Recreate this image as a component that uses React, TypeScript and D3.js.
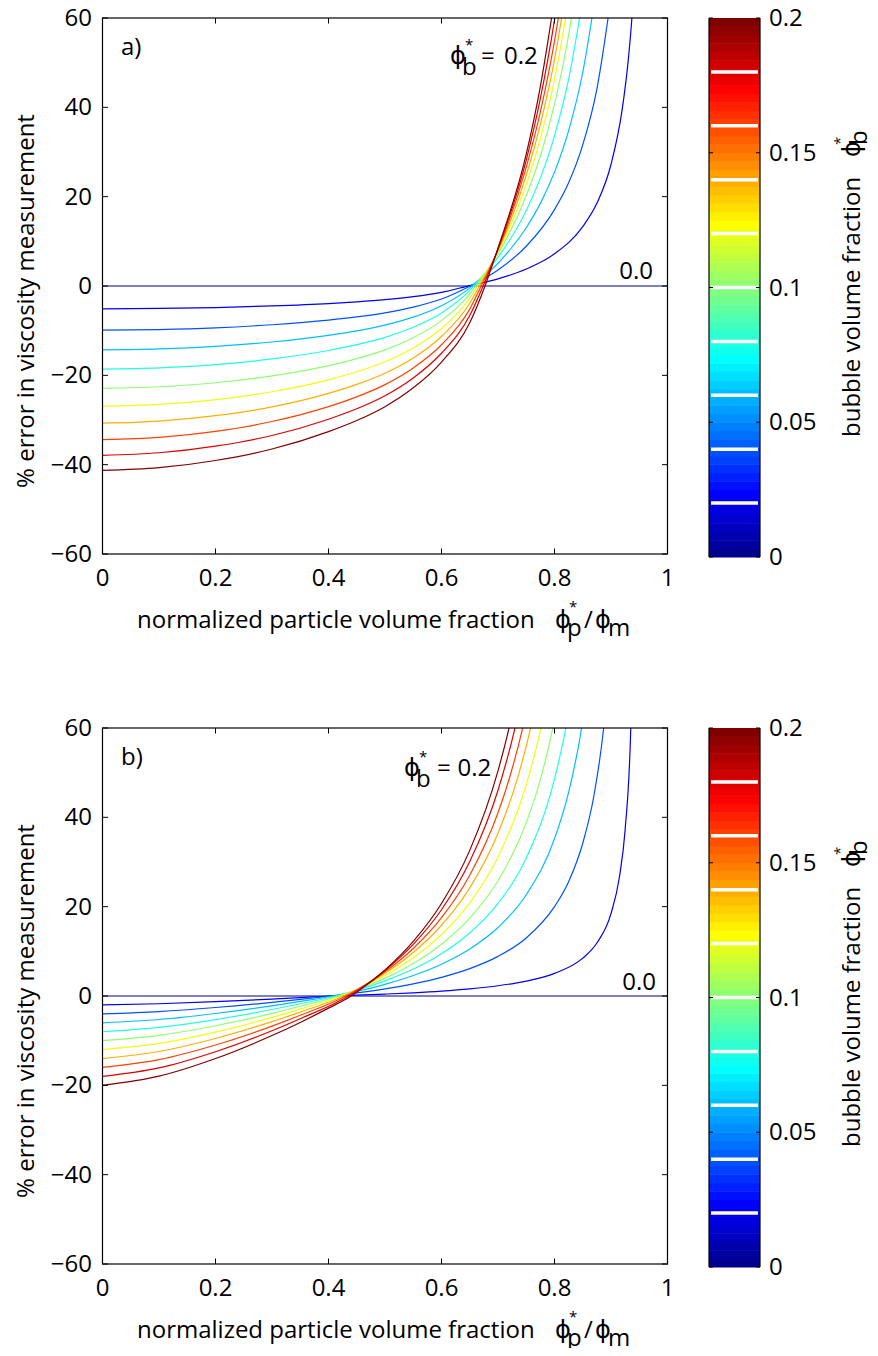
import React from "react";
import * as d3 from "d3";

const W = 878;
const H = 1356;

// ---------- data ----------
const PHI_B = [0.02, 0.04, 0.06, 0.08, 0.1, 0.12, 0.14, 0.16, 0.18, 0.2];
const X_TICKS = [0, 0.2, 0.4, 0.6, 0.8, 1];
const X_TICK_LABELS = ["0", "0.2", "0.4", "0.6", "0.8", "1"];
const Y_TICKS = [-60, -40, -20, 0, 20, 40, 60];
const CB_TICKS = [0, 0.05, 0.1, 0.15, 0.2];
const CB_TICK_LABELS = ["0", "0.05", "0.1", "0.15", "0.2"];
const CB_MARKS = [0.02, 0.04, 0.06, 0.08, 0.1, 0.12, 0.14, 0.16, 0.18];

// panel a: [normalized particle fraction, % error] read for each phi_b (rows follow PHI_B)
const CURVES_A: number[][][] = [
  [[0, -5.1], [0.1, -5.02], [0.2, -4.82], [0.3, -4.46], [0.4, -3.93], [0.45, -3.54], [0.5, -3.06], [0.55, -2.4], [0.6, -1.43], [0.65, 0.1], [0.7, 1.6], [0.75, 3.8], [0.8, 7.2], [0.85, 13.3], [0.875, 18.5], [0.9, 27.2], [0.92, 39.7], [0.93, 49.9], [0.937, 60], [0.945, 77]],
  [[0, -9.9], [0.1, -9.75], [0.2, -9.37], [0.3, -8.67], [0.4, -7.64], [0.45, -6.92], [0.5, -6.0], [0.55, -4.74], [0.6, -2.92], [0.65, -0.04], [0.7, 3.6], [0.75, 8.9], [0.8, 17.1], [0.825, 23.1], [0.85, 31.6], [0.875, 44.1], [0.9, 64.6]],
  [[0, -14.3], [0.1, -14.09], [0.2, -13.53], [0.3, -12.54], [0.4, -11.07], [0.45, -10.05], [0.5, -8.75], [0.55, -6.98], [0.6, -4.42], [0.65, -0.41], [0.6537, 0], [0.7, 5.1], [0.75, 13.05], [0.775, 18.5], [0.8, 25.5], [0.825, 34.8], [0.85, 47.8], [0.875, 67.2]],
  [[0, -18.6], [0.1, -18.32], [0.2, -17.6], [0.3, -16.33], [0.4, -14.44], [0.45, -13.14], [0.5, -11.49], [0.55, -9.25], [0.6, -6.03], [0.65, -0.99], [0.657, 0], [0.7, 6.4], [0.75, 16.9], [0.775, 24.2], [0.8, 33.6], [0.825, 46.3], [0.85, 64.2]],
  [[0, -22.9], [0.1, -22.56], [0.2, -21.66], [0.3, -20.13], [0.4, -17.83], [0.45, -16.26], [0.5, -14.29], [0.55, -11.6], [0.6, -7.75], [0.65, -1.77], [0.6603, 0], [0.7, 7.2], [0.75, 20.2], [0.775, 29.1], [0.8, 40.7], [0.825, 56.2], [0.85, 78.2]],
  [[0, -26.9], [0.1, -26.5], [0.2, -25.45], [0.3, -23.67], [0.4, -21.0], [0.45, -19.2], [0.5, -16.95], [0.55, -13.87], [0.6, -9.51], [0.65, -2.74], [0.6637, 0], [0.7, 7.6], [0.75, 22.7], [0.775, 33.0], [0.8, 46.2], [0.825, 64.0]],
  [[0, -30.7], [0.1, -30.24], [0.2, -29.04], [0.3, -27.05], [0.4, -24.03], [0.45, -22.03], [0.5, -19.53], [0.55, -16.11], [0.6, -11.3], [0.65, -3.87], [0.667, 0], [0.7, 7.9], [0.75, 24.8], [0.775, 36.2], [0.8, 50.7], [0.825, 69.9]],
  [[0, -34.4], [0.1, -33.88], [0.2, -32.54], [0.3, -30.34], [0.4, -27.0], [0.45, -24.82], [0.5, -22.08], [0.55, -18.36], [0.6, -13.16], [0.65, -5.17], [0.6703, 0], [0.7, 8.1], [0.75, 26.6], [0.775, 39.0], [0.8, 54.8], [0.825, 75.4]],
  [[0, -37.9], [0.1, -37.33], [0.2, -35.85], [0.3, -33.47], [0.4, -29.82], [0.45, -27.49], [0.5, -24.56], [0.55, -20.58], [0.6, -15.06], [0.65, -6.62], [0.6737, 0], [0.7, 8.3], [0.75, 28.2], [0.775, 42.0], [0.8, 59.6], [0.825, 82.9]],
  [[0, -41.3], [0.1, -40.68], [0.2, -39.07], [0.3, -36.5], [0.4, -32.59], [0.45, -30.11], [0.5, -27.01], [0.55, -22.8], [0.6, -17.02], [0.65, -8.22], [0.677, 0], [0.7, 8.5], [0.75, 29.5], [0.775, 44.7], [0.8, 64.3]],
];

// panel b
const CURVES_B: number[][][] = [
  [[0, -2], [0.1, -1.74], [0.2, -1.28], [0.3, -0.69], [0.35, -0.36], [0.4, 0], [0.45, 0.19], [0.5, 0.43], [0.55, 0.72], [0.6, 1.09], [0.65, 1.59], [0.7, 2.29], [0.75, 3.34], [0.8, 5.06], [0.85, 8.48], [0.875, 11.86], [0.9, 18.46], [0.915, 26.7], [0.925, 37.2], [0.935, 59.9], [0.942, 102]],
  [[0, -4], [0.1, -3.49], [0.2, -2.58], [0.3, -1.42], [0.35, -0.76], [0.4044, 0], [0.45, 0.68], [0.5, 1.58], [0.55, 2.72], [0.6, 4.18], [0.65, 6.13], [0.7, 8.87], [0.75, 13.0], [0.8, 20.0], [0.825, 25.6], [0.85, 34.2], [0.87, 45.0], [0.887, 60.0], [0.9, 78.9]],
  [[0, -6], [0.1, -5.26], [0.2, -3.92], [0.3, -2.2], [0.35, -1.22], [0.4089, 0], [0.45, 1.06], [0.5, 2.62], [0.55, 4.58], [0.6, 7.11], [0.65, 10.52], [0.7, 15.33], [0.75, 22.67], [0.8, 35.2], [0.825, 45.6], [0.848, 60], [0.86, 70.8]],
  [[0, -8], [0.1, -7.03], [0.2, -5.27], [0.3, -3.02], [0.35, -1.74], [0.4133, 0], [0.45, 1.29], [0.5, 3.39], [0.55, 6.03], [0.6, 9.47], [0.65, 14.11], [0.7, 20.72], [0.75, 30.9], [0.8, 48.6], [0.82, 60], [0.84, 76.2]],
  [[0, -10], [0.1, -8.82], [0.2, -6.66], [0.3, -3.89], [0.35, -2.3], [0.4178, 0], [0.45, 1.41], [0.5, 4.01], [0.55, 7.3], [0.6, 11.6], [0.65, 17.42], [0.7, 25.79], [0.75, 38.8], [0.775, 48.5], [0.797, 60], [0.82, 77.0]],
  [[0, -12], [0.1, -10.62], [0.2, -8.08], [0.3, -4.79], [0.35, -2.93], [0.4222, 0], [0.45, 1.47], [0.5, 4.6], [0.55, 8.57], [0.6, 13.77], [0.65, 20.86], [0.7, 31.12], [0.75, 47.3], [0.776, 60], [0.8, 76.5]],
  [[0, -14], [0.1, -12.43], [0.2, -9.52], [0.3, -5.74], [0.35, -3.6], [0.4267, 0], [0.45, 1.45], [0.5, 5.1], [0.55, 9.74], [0.6, 15.84], [0.65, 24.22], [0.7, 36.44], [0.735, 48.95], [0.7577, 60], [0.78, 74.4]],
  [[0, -16], [0.1, -14.26], [0.2, -10.98], [0.3, -6.74], [0.35, -4.32], [0.4311, 0], [0.45, 1.33], [0.5, 5.42], [0.55, 10.64], [0.6, 17.53], [0.65, 27.04], [0.7, 41.04], [0.72, 48.7], [0.7436, 60], [0.765, 73.4]],
  [[0, -18], [0.1, -16.09], [0.2, -12.47], [0.3, -7.78], [0.35, -5.09], [0.4356, 0], [0.45, 1.14], [0.5, 5.71], [0.55, 11.56], [0.6, 19.31], [0.65, 30.09], [0.7, 46.07], [0.73, 60], [0.75, 72.2]],
  [[0, -20], [0.1, -17.94], [0.2, -14.0], [0.3, -8.86], [0.35, -5.92], [0.4, -2.72], [0.44, 0], [0.45, 0.86], [0.5, 5.83], [0.55, 12.22], [0.6, 20.72], [0.65, 32.6], [0.7, 50.4], [0.7195, 60], [0.74, 72.6]],
];

// ---------- helpers ----------
function jet64(i: number): string {
  const t = (i + 1) / 64;
  const c = (v: number) => Math.max(0, Math.min(1, v));
  const r = c(1.5 - Math.abs(4 * t - 3));
  const g = c(1.5 - Math.abs(4 * t - 2));
  const b = c(1.5 - Math.abs(4 * t - 1));
  return d3.rgb(r * 255, g * 255, b * 255).formatHex();
}
function colorFor(v: number): string {
  const idx = Math.min(63, Math.floor((v / 0.2) * 64 + 1e-9));
  return jet64(idx);
}

const FONT = "'Open Sans', 'DejaVu Sans', sans-serif";
const PHI = "\u03D5";
const FS = 24;
const FS_SUP = 15;

const PLOT_L = 102.5;
const PLOT_R = 667.5;
const CB_L = 709;
const CB_R = 760;

type PanelProps = {
  top: number;
  label: string;
  curves: number[][][];
  phiLabel: { x: number; y: number; eqX: number; numX: number };
  zeroLabel: { x: number; y: number };
  id: string;
};

function Panel({ top, label, curves, phiLabel, zeroLabel, id }: PanelProps) {
  const bottom = top + 536;
  const x = d3.scaleLinear().domain([0, 1]).range([PLOT_L, PLOT_R]);
  const y = d3.scaleLinear().domain([-60, 60]).range([bottom, top]);
  const cb = d3.scaleLinear().domain([0, 0.2]).range([top + 539, top]);
  const line = d3
    .line<number[]>()
    .x((d) => x(d[0]))
    .y((d) => y(d[1]))
    .curve(d3.curveMonotoneX);
  const tick = 5.5;
  const bands = d3.range(64);
  const midY = (top + bottom) / 2;
  return (
    <g fontFamily={FONT} fontSize={FS}>
      <defs>
        <clipPath id={id}>
          <rect x={PLOT_L} y={top} width={PLOT_R - PLOT_L} height={bottom - top} />
        </clipPath>
      </defs>
      {/* curves */}
      <g clipPath={`url(#${id})`} fill="none" strokeWidth={1.2}>
        <path d={line([[0, 0], [1, 0]]) || ""} stroke={colorFor(0)} />
        {curves.map((pts, k) => (
          <path key={k} d={line(pts) || ""} stroke={colorFor(PHI_B[k])} />
        ))}
      </g>
      {/* axes box */}
      <rect x={PLOT_L} y={top} width={PLOT_R - PLOT_L} height={bottom - top} fill="none" stroke="#000" strokeWidth={1.2} />
      {X_TICKS.map((t, i) => (
        <g key={"xt" + i}>
          <line x1={x(t)} x2={x(t)} y1={bottom} y2={bottom - tick} stroke="#000" />
          <line x1={x(t)} x2={x(t)} y1={top} y2={top + tick} stroke="#000" />
          <text x={x(t)} y={bottom + 32} textAnchor="middle">
            {X_TICK_LABELS[i]}
          </text>
        </g>
      ))}
      {Y_TICKS.map((t, i) => (
        <g key={"yt" + i}>
          <line x1={PLOT_L} x2={PLOT_L + tick} y1={y(t)} y2={y(t)} stroke="#000" />
          <line x1={PLOT_R} x2={PLOT_R - tick} y1={y(t)} y2={y(t)} stroke="#000" />
          <text x={92} y={y(t) + 8} textAnchor="end">
            {String(t).replace("-", "\u2212")}
          </text>
        </g>
      ))}
      {/* x axis label */}
      <text y={bottom + 74}>
        <tspan x={137}>normalized particle volume fraction</tspan>
        <tspan x={555}>{PHI}</tspan>
        <tspan x={569} dy={-16} fontSize={FS_SUP}>*</tspan>
        <tspan x={567} dy={24}>p</tspan>
        <tspan x={584} dy={-8}>/</tspan>
        <tspan x={595}>{PHI}</tspan>
        <tspan x={608} dy={8}>m</tspan>
      </text>
      {/* y axis label */}
      <text transform={`translate(34,${midY + 15}) rotate(-90)`} textAnchor="middle">
        % error in viscosity measurement
      </text>
      {/* annotations */}
      <text x={121} y={top + 37}>{label}</text>
      <text y={phiLabel.y}>
        <tspan x={phiLabel.x}>{PHI}</tspan>
        <tspan x={phiLabel.x + 15} dy={-14} fontSize={FS_SUP}>*</tspan>
        <tspan x={phiLabel.x + 12} dy={25}>b</tspan>
        <tspan x={phiLabel.eqX} dy={-11}>=</tspan>
        <tspan x={phiLabel.numX}>0.2</tspan>
      </text>
      <text x={zeroLabel.x} y={zeroLabel.y} textAnchor="end">0.0</text>
      {/* colorbar */}
      {bands.map((i) => (
        <rect
          key={"b" + i}
          x={CB_L}
          width={CB_R - CB_L}
          y={cb(((i + 1) / 64) * 0.2)}
          height={cb((i / 64) * 0.2) - cb(((i + 1) / 64) * 0.2) + 0.5}
          fill={jet64(i)}
        />
      ))}
      {CB_MARKS.map((m, i) => (
        <line key={"m" + i} x1={CB_L + 2} x2={CB_R - 2} y1={cb(m)} y2={cb(m)} stroke="#fff" strokeWidth={3.5} />
      ))}
      <line x1={CB_L} x2={CB_L} y1={top} y2={cb(0)} stroke="#000" strokeWidth={1.2} />
      <line x1={CB_R} x2={CB_R} y1={top} y2={cb(0)} stroke="#000" strokeWidth={1.2} />
      {CB_TICKS.map((t, i) => (
        <g key={"ct" + i}>
          <line x1={CB_L} x2={CB_L + 4} y1={cb(t)} y2={cb(t)} stroke="#000" />
          <line x1={CB_R} x2={CB_R - 4} y1={cb(t)} y2={cb(t)} stroke="#000" />
          <text x={769} y={cb(t) + 8}>
            {CB_TICK_LABELS[i]}
          </text>
        </g>
      ))}
      <text transform={`translate(860,${top + 419}) rotate(-90)`}>
        <tspan x={0} y={0}>bubble volume fraction</tspan>
        <tspan x={280} y={0}>{PHI}</tspan>
        <tspan x={292} y={-15} fontSize={FS_SUP}>*</tspan>
        <tspan x={292} y={7}>b</tspan>
      </text>
    </g>
  );
}

export default function App() {
  return (
    <svg width={W} height={H} viewBox={`0 0 ${W} ${H}`} style={{ display: "block", background: "#fff", margin: "-8px" }}>
      <rect width={W} height={H} fill="#fff" />
      <Panel
        id="clipA"
        top={18}
        label="a)"
        curves={CURVES_A}
        phiLabel={{ x: 450, y: 64, eqX: 481, numX: 504 }}
        zeroLabel={{ x: 653, y: 279 }}
      />
      <Panel
        id="clipB"
        top={728}
        label="b)"
        curves={CURVES_B}
        phiLabel={{ x: 404, y: 776, eqX: 437, numX: 457.5 }}
        zeroLabel={{ x: 656, y: 990 }}
      />
    </svg>
  );
}
